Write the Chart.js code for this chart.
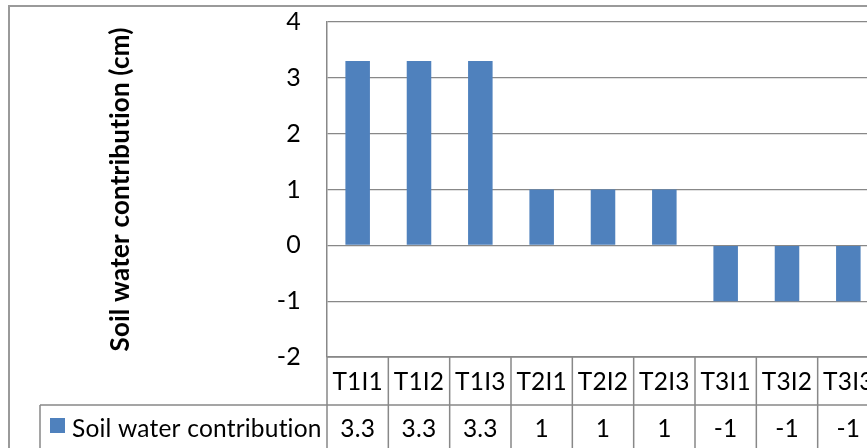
<!DOCTYPE html>
<html>
<head>
<meta charset="utf-8">
<script src="https://cdn.jsdelivr.net/npm/chart.js@4/dist/chart.umd.min.js"></script>
<style>
  html, body { margin: 0; padding: 0; background: #fff; overflow: hidden; }
  #frame { position: relative; width: 867px; height: 448px; overflow: hidden; }
  #frame canvas { position: absolute; left: 0; top: 0; }
</style>
</head>
<body>
<div id="frame"><canvas id="chart" width="880" height="448"></canvas></div>
<script>
// Treatment combinations (tillage x irrigation)
const categories = ['T1I1', 'T1I2', 'T1I3', 'T2I1', 'T2I2', 'T2I3', 'T3I1', 'T3I2', 'T3I3'];
// Soil water contribution per treatment, cm
const seriesName = 'Soil water contribution';
const contribution = [3.3, 3.3, 3.3, 1, 1, 1, -1, -1, -1];
// Value axis ticks
const yTicks = [-2, -1, 0, 1, 2, 3, 4];
const yTitle = 'Soil water contribution (cm)';

const FONT = 'Lato, "Open Sans", sans-serif';
const BAR = '#4F81BD';
const LINE = '#888888';

// Outer frame of the chart; a hair of letter spacing keeps "ti" from ligating
const framePlugin = {
  id: 'frame',
  beforeDraw(chart) {
    const ctx = chart.ctx;
    ctx.letterSpacing = '0.2px';
    ctx.save();
    ctx.fillStyle = '#fff';
    ctx.fillRect(0, 0, chart.width, chart.height);
    ctx.strokeStyle = '#9a9a9a';
    ctx.lineWidth = 2;
    ctx.strokeRect(9, 6, chart.width + 20, chart.height + 20);
    ctx.restore();
  }
};

// Data table under the plot: category row, then legend key + values row
const dataTablePlugin = {
  id: 'dataTable',
  afterDraw(chart) {
    const ctx = chart.ctx;
    const x = chart.scales.x;
    const area = chart.chartArea;
    const n = categories.length;
    const colW = x.getPixelForValue(1) - x.getPixelForValue(0);
    const top = area.bottom;
    const rowH = 48;
    const mid = top + rowH;
    const bottom = mid + rowH;
    const legendLeft = 40;

    ctx.save();
    ctx.letterSpacing = '0.2px';
    ctx.strokeStyle = LINE;
    ctx.lineWidth = 1.5;
    ctx.beginPath();
    // horizontal rules
    ctx.moveTo(area.left, top); ctx.lineTo(area.right, top);
    ctx.moveTo(legendLeft, mid); ctx.lineTo(area.right, mid);
    ctx.moveTo(legendLeft, bottom); ctx.lineTo(area.right, bottom);
    // column separators
    for (let i = 0; i <= n; i++) {
      const px = x.getPixelForValue(i) - colW / 2;
      ctx.moveTo(px, top); ctx.lineTo(px, bottom);
    }
    ctx.moveTo(legendLeft, mid); ctx.lineTo(legendLeft, bottom);
    ctx.stroke();

    ctx.fillStyle = '#000';
    ctx.font = '24.5px ' + FONT;
    ctx.textAlign = 'center';
    ctx.textBaseline = 'middle';
    categories.forEach((c, i) => {
      ctx.fillText(c, x.getPixelForValue(i), top + rowH / 2 + 1);
    });
    const ds = chart.data.datasets[0];
    ds.data.forEach((v, i) => {
      ctx.fillText(String(v), x.getPixelForValue(i), mid + rowH / 2);
    });

    // legend key
    ctx.fillStyle = BAR;
    ctx.fillRect(50, 418, 15, 15);
    ctx.fillStyle = '#000';
    ctx.textAlign = 'left';
    ctx.fillText(ds.label, 72, mid + rowH / 2);
    ctx.restore();
  }
};

new Chart(document.getElementById('chart'), {
  type: 'bar',
  data: {
    labels: categories,
    datasets: [{
      label: seriesName,
      data: contribution,
      backgroundColor: BAR,
      borderWidth: 0,
      barPercentage: 0.4,
      categoryPercentage: 1.0
    }]
  },
  options: {
    responsive: false,
    animation: false,
    events: [],
    layout: { padding: { top: 22, right: 1, bottom: 91, left: 0 } },
    plugins: {
      legend: { display: false },
      tooltip: { enabled: false }
    },
    scales: {
      x: {
        type: 'category',
        display: false,
        offset: true
      },
      y: {
        min: -2,
        max: 4,
        afterBuildTicks(scale) { scale.ticks = yTicks.map(v => ({ value: v })); },
        afterFit(scale) {
          scale.width = 327;
          scale.paddingTop = 0;
          scale.paddingBottom = 0;
        },
        ticks: {
          color: '#000',
          font: { family: FONT, size: 25 },
          padding: 26
        },
        grid: { color: LINE, lineWidth: 1.3, drawTicks: false },
        border: { display: true, color: LINE, width: 1.5 },
        title: {
          display: true,
          text: yTitle,
          color: '#000',
          font: { family: FONT, size: 26, weight: 'bold' },
          padding: { top: 105, bottom: 0 }
        }
      }
    }
  },
  plugins: [framePlugin, dataTablePlugin]
});
</script>
</body>
</html>
